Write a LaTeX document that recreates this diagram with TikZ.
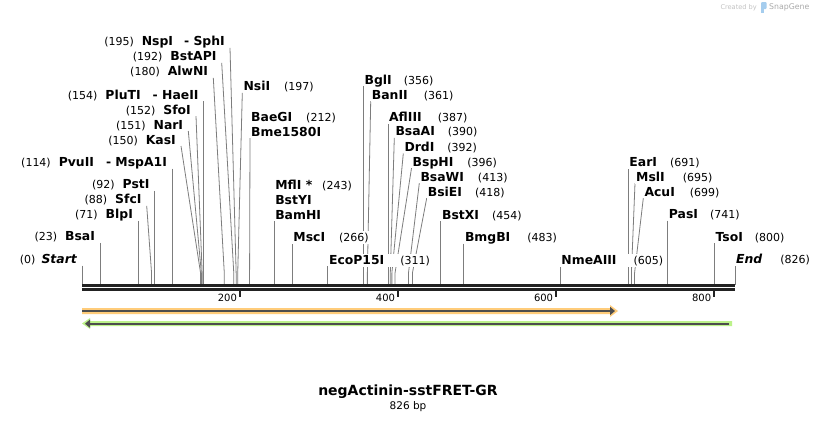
\documentclass[tikz,border=0pt]{standalone}
\usepackage{fontspec}
\setmainfont{DejaVu Sans}
\usetikzlibrary{backgrounds,arrows.meta,positioning}
\definecolor{cutgray}{RGB}{125,125,125}
\definecolor{mapblack}{RGB}{34,34,34}
\definecolor{fwdfill}{RGB}{255,204,122}
\definecolor{revfill}{RGB}{188,242,138}
\definecolor{featline}{RGB}{77,77,77}
\definecolor{creditgray}{RGB}{195,195,195}
\definecolor{brandgray}{RGB}{170,170,170}
\definecolor{logoblue}{RGB}{165,205,238}
\newcommand{\nm}[1]{{\fontsize{12.4}{14}\selectfont\bfseries #1}}
\newcommand{\px}[1]{82+0.7905*#1}

\begin{document}
\begin{tikzpicture}[x=1pt, y=-1pt,
  lbl/.style={fill=white, inner xsep=1pt, inner ysep=1pt, font=\fontsize{11}{13}\selectfont},
  lftlbl/.style={lbl, anchor=base east},
  rgtlbl/.style={lbl, anchor=base west},
  cut/.style={draw=cutgray, line width=0.8pt},
  tick/.style={draw=mapblack, line width=2pt},
  ticklbl/.style={anchor=base east, inner sep=0pt, font=\fontsize{10}{12}\selectfont}]
   \useasboundingbox (0,0) rectangle (818,423);

   % sites left of the cut lines
   \node[lftlbl] (nStart) at (78,263.5) {(0)\hspace{6pt}\nm{\itshape Start}};
   \node[lftlbl] (nBsaI) at ({\px{23}-4},240.8) {(23)\hspace{8pt}\nm{BsaI}};
   \node[lftlbl] (nBlpI) at ({\px{71}-4},218.8) {(71)\hspace{8pt}\nm{BlpI}};
   \node[lftlbl] (nSfcI) at (142.7,203.8) {(88)\hspace{8pt}\nm{SfcI}};
   \node[lftlbl] (nPstI) at ({\px{92}-4},188.8) {(92)\hspace{8pt}\nm{PstI}};
   \node[lftlbl] (nPvuII) at ({\px{114}-4},166.6) {(114)\hspace{8pt}\nm{PvuII\hspace{12pt}- MspA1I}};
   \node[lftlbl] (nKasI) at (177,144) {(150)\hspace{8pt}\nm{KasI}};
   \node[lftlbl] (nNarI) at (184.3,129) {(151)\hspace{8pt}\nm{NarI}};
   \node[lftlbl] (nSfoI) at (192,114.2) {(152)\hspace{8pt}\nm{SfoI}};
   \node[lftlbl] (nPluTI) at ({\px{154}-4},99.3) {(154)\hspace{8pt}\nm{PluTI\hspace{12pt}- HaeII}};
   \node[lftlbl] (nAlwNI) at (209.3,75.8) {(180)\hspace{8pt}\nm{AlwNI}};
   \node[lftlbl] (nBstAPI) at (217.7,60.8) {(192)\hspace{8pt}\nm{BstAPI}};
   \node[lftlbl] (nNspI) at (226,45.8) {(195)\hspace{8pt}\nm{NspI\hspace{11pt}- SphI}};

   % sites right of the cut lines
   \node[rgtlbl] (nNsiI) at (242.3,90.9) {\nm{NsiI}\hspace{14pt}(197)};
   \node[rgtlbl] (nBaeGI) at (250,121.2) {\nm{BaeGI}\hspace{14pt}(212)};
   \node[rgtlbl] (nBme) at (250,136.2) {\nm{Bme1580I}};
   \node[rgtlbl] (nMflI) at ({\px{243}},189.7) {\nm{MflI *}\hspace{10pt}(243)};
   \node[rgtlbl] (nBstYI) at ({\px{243}},204.2) {\nm{BstYI}};
   \node[rgtlbl] (nBamHI) at ({\px{243}},219.2) {\nm{BamHI}};
   \node[rgtlbl] (nMscI) at ({\px{266}},241.5) {\nm{MscI}\hspace{14pt}(266)};
   \node[rgtlbl] (nEco) at ({\px{311}},264.2) {\nm{EcoP15I}\hspace{16pt}(311)};
   \node[rgtlbl] (nBglI) at ({\px{356}},84.2) {\nm{BglI}\hspace{12pt}(356)};
   \node[rgtlbl] (nBanII) at (370.7,99.2) {\nm{BanII}\hspace{16pt}(361)};
   \node[rgtlbl] (nAflIII) at ({\px{387}},121.5) {\nm{AflIII}\hspace{16pt}(387)};
   \node[rgtlbl] (nBsaAI) at (394.3,135.9) {\nm{BsaAI}\hspace{13pt}(390)};
   \node[rgtlbl] (nDrdI) at (403.3,151.5) {\nm{DrdI}\hspace{13pt}(392)};
   \node[rgtlbl] (nBspHI) at (411.5,166.2) {\nm{BspHI}\hspace{14pt}(396)};
   \node[rgtlbl] (nBsaWI) at (419.3,181.2) {\nm{BsaWI}\hspace{14pt}(413)};
   \node[rgtlbl] (nBsiEI) at (426.7,196.2) {\nm{BsiEI}\hspace{13pt}(418)};
   \node[rgtlbl] (nBstXI) at ({\px{454}},219.2) {\nm{BstXI}\hspace{13pt}(454)};
   \node[rgtlbl] (nBmgBI) at ({\px{483}},241.5) {\nm{BmgBI}\hspace{17pt}(483)};
   \node[rgtlbl] (nNme) at ({\px{605}},264.2) {\nm{NmeAIII}\hspace{17pt}(605)};
   \node[rgtlbl] (nEarI) at ({\px{691}},166.5) {\nm{EarI}\hspace{13pt}(691)};
   \node[rgtlbl] (nMslI) at (635,181.2) {\nm{MslI}\hspace{18pt}(695)};
   \node[rgtlbl] (nAcuI) at (643.3,196.2) {\nm{AcuI}\hspace{15pt}(699)};
   \node[rgtlbl] (nPasI) at ({\px{741}},218.7) {\nm{PasI}\hspace{12pt}(741)};
   \node[rgtlbl] (nTsoI) at ({\px{800}},241.2) {\nm{TsoI}\hspace{12pt}(800)};
   \node[rgtlbl] (nEnd) at ({\px{826}},263.7) {\nm{\itshape End}\hspace{18pt}(826)};

   % ruler labels
   \node[ticklbl] (t200) at ({\px{200}-3},301) {200};
   \node[ticklbl] (t400) at ({\px{400}-3},301) {400};
   \node[ticklbl] (t600) at ({\px{600}-3},301) {600};
   \node[ticklbl] (t800) at ({\px{800}-3},301) {800};

   \node[font=\fontsize{14}{16}\selectfont\bfseries] (title) at (408,392) {negActinin-sstFRET-GR};
   \node[font=\fontsize{10.5}{12}\selectfont] (size) at (408,407) {826 bp};

   \node[font=\fontsize{6.6}{8}\selectfont, text=creditgray, anchor=east, inner sep=0pt] (credit) at (757,7.5) {Created by};
   \node[font=\fontsize{7.8}{9}\selectfont, text=brandgray, anchor=west, inner sep=0pt] (brand) at (769,7.5) {SnapGene};
   \fill[logoblue, rounded corners=1pt] (761,2) rectangle (766.5,9);
   \fill[logoblue] (761,8) rectangle (763.5,13);

   \begin{scope}[on background layer]
    \fill[white] (0,0) rectangle (818,423);
    % cut lines
    \draw[cut] ([shift={(4,2)}]nStart.base east) -- ({\px{0}},285);
    \draw[cut] ([shift={(4,2)}]nBsaI.base east) -- ({\px{23}},285);
    \draw[cut] ([shift={(4,2)}]nBlpI.base east) -- ({\px{71}},285);
    \draw[cut] ([shift={(4,2)}]nSfcI.base east) -- ({\px{88}},273) -- ({\px{88}},285);
    \draw[cut] ([shift={(4,2)}]nPstI.base east) -- ({\px{92}},285);
    \draw[cut] ([shift={(4,2)}]nPvuII.base east) -- ({\px{114}},285);
    \draw[cut] ([shift={(4,2)}]nKasI.base east) -- ({\px{150}},273) -- ({\px{150}},285);
    \draw[cut] ([shift={(4,2)}]nNarI.base east) -- ({\px{151}},273) -- ({\px{151}},285);
    \draw[cut] ([shift={(4,2)}]nSfoI.base east) -- ({\px{152}},273) -- ({\px{152}},285);
    \draw[cut] ([shift={(4,2)}]nPluTI.base east) -- ({\px{154}},285);
    \draw[cut] ([shift={(4,2)}]nAlwNI.base east) -- ({\px{180}},273) -- ({\px{180}},285);
    \draw[cut] ([shift={(4,2)}]nBstAPI.base east) -- ({\px{192}},273) -- ({\px{192}},285);
    \draw[cut] ([shift={(4,2)}]nNspI.base east) -- ({\px{195}},273) -- ({\px{195}},285);
    \draw[cut] ([shift={(0,2)}]nNsiI.base west) -- ({\px{197}},273) -- ({\px{197}},285);
    \draw[cut] ([shift={(0,2)}]nBme.base west) -- ({\px{212}},273) -- ({\px{212}},285);
    \draw[cut] ([shift={(0,2)}]nBamHI.base west) -- ({\px{243}},285);
    \draw[cut] ([shift={(0,2)}]nMscI.base west) -- ({\px{266}},285);
    \draw[cut] ([shift={(0,2)}]nEco.base west) -- ({\px{311}},285);
    \draw[cut] ([shift={(0,2)}]nBglI.base west) -- ({\px{356}},285);
    \draw[cut] ([shift={(0,2)}]nBanII.base west) -- ({\px{361}},273) -- ({\px{361}},285);
    \draw[cut] ([shift={(0,2)}]nAflIII.base west) -- ({\px{387}},285);
    \draw[cut] ([shift={(0,2)}]nBsaAI.base west) -- ({\px{390}},273) -- ({\px{390}},285);
    \draw[cut] ([shift={(0,2)}]nDrdI.base west) -- ({\px{392}},273) -- ({\px{392}},285);
    \draw[cut] ([shift={(0,2)}]nBspHI.base west) -- ({\px{396}},273) -- ({\px{396}},285);
    \draw[cut] ([shift={(0,2)}]nBsaWI.base west) -- ({\px{413}},273) -- ({\px{413}},285);
    \draw[cut] ([shift={(0,2)}]nBsiEI.base west) -- ({\px{418}},273) -- ({\px{418}},285);
    \draw[cut] ([shift={(0,2)}]nBstXI.base west) -- ({\px{454}},285);
    \draw[cut] ([shift={(0,2)}]nBmgBI.base west) -- ({\px{483}},285);
    \draw[cut] ([shift={(0,2)}]nNme.base west) -- ({\px{605}},285);
    \draw[cut] ([shift={(0,2)}]nEarI.base west) -- ({\px{691}},285);
    \draw[cut] ([shift={(0,2)}]nMslI.base west) -- ({\px{695}},273) -- ({\px{695}},285);
    \draw[cut] ([shift={(0,2)}]nAcuI.base west) -- ({\px{699}},273) -- ({\px{699}},285);
    \draw[cut] ([shift={(0,2)}]nPasI.base west) -- ({\px{741}},285);
    \draw[cut] ([shift={(0,2)}]nTsoI.base west) -- ({\px{800}},285);
    \draw[cut] ([shift={(0,2)}]nEnd.base west) -- ({\px{826}},285);
   \end{scope}

   % sequence ruler
   \draw[mapblack, line width=3pt] (82,285.5) -- ({\px{826}},285.5);
   \draw[mapblack, line width=2.4pt] (82,289.5) -- ({\px{826}},289.5);
   \draw[tick] ({\px{200}},290.5) -- ({\px{200}},297);
   \draw[tick] ({\px{400}},290.5) -- ({\px{400}},297);
   \draw[tick] ({\px{600}},290.5) -- ({\px{600}},297);
   \draw[tick] ({\px{800}},290.5) -- ({\px{800}},297);

   % features
   \fill[fwdfill] (82,308) -- (610,308) -- (610,305) -- (618,311) -- (610,317) -- (610,314) -- (82,314) -- cycle;
   \draw[featline, line width=2pt, -{Triangle[length=5pt,width=8pt]}] (82,311) -- (615,311);
   \fill[revfill] (82,323.5) -- (90,318) -- (90,321) -- (732,321) -- (732,326) -- (90,326) -- (90,329) -- cycle;
   \draw[featline, line width=2pt, {Triangle[length=5pt,width=8pt]}-] (85,323.7) -- (729,323.7);
\end{tikzpicture}
\end{document}
